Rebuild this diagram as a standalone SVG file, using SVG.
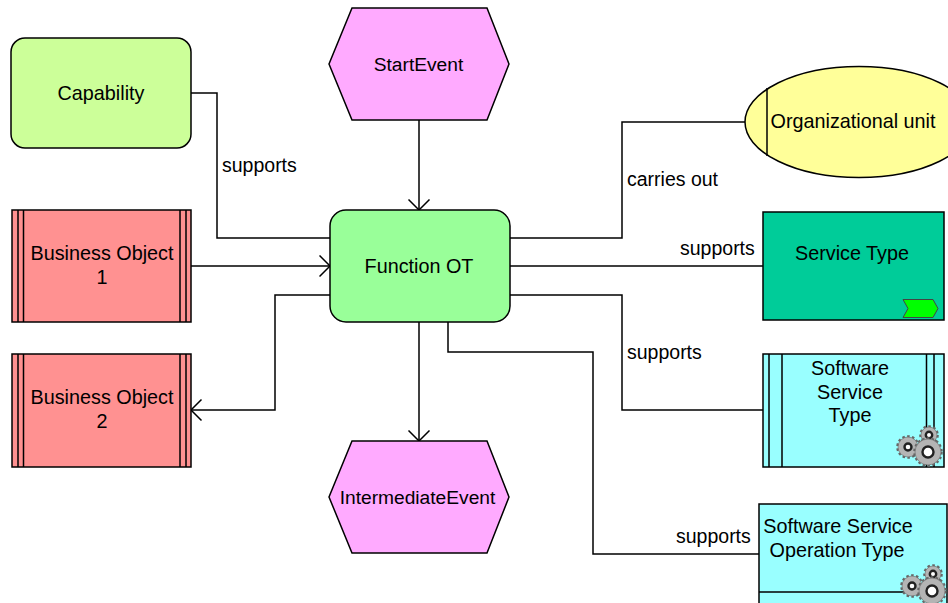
<svg xmlns="http://www.w3.org/2000/svg" width="948" height="603" viewBox="0 0 948 603">
<style>
.s{stroke:#000;stroke-width:1.5}
.c{fill:none;stroke:#000;stroke-width:1.5}
text{font-family:"Liberation Sans",Arial,sans-serif;font-size:19.8px;fill:#000;text-anchor:middle}
.l{text-anchor:start;font-size:19.5px}
.e{font-size:19.2px}
.t{fill:none;stroke:#666;stroke-width:3.6;stroke-dasharray:2.4 2.2}
.b{fill:#b4b4b4;stroke:#666;stroke-width:.6}
.h{fill:#fff;stroke:#222;stroke-width:2.4}
</style>
<defs>
<marker id="a" markerUnits="userSpaceOnUse" markerWidth="14" markerHeight="26" refX="11.5" refY="11.5" orient="auto"><path d="M1 1L11.5 11.500L1 22" fill="none" stroke="#000" stroke-width="1.5"/></marker>
<g id="gears">
<circle cx="32" cy="-29" r="8" class="t"/><circle cx="32" cy="-29" r="8" class="b"/><circle cx="32" cy="-29" r="3.200" class="h"/>
<circle cx="11" cy="-17" r="10" class="t"/><circle cx="11" cy="-17" r="10" class="b"/><circle cx="11" cy="-17" r="3.500" class="h"/>
<circle cx="31" cy="-12" r="13" class="t"/><circle cx="31" cy="-12" r="13" class="b"/><circle cx="31" cy="-12" r="5.500" class="h"/>
</g>
</defs>
<g id="connectors">
<path class="c" d="M191 93H217V238H330"/>
<path class="c" d="M419 120V210" marker-end="url(#a)"/>
<path class="c" d="M191 266H330" marker-end="url(#a)"/>
<path class="c" d="M330 295H275V410H191" marker-end="url(#a)"/>
<path class="c" d="M419 322V441" marker-end="url(#a)"/>
<path class="c" d="M510 238H622V122H746"/>
<path class="c" d="M510 266H763"/>
<path class="c" d="M510 295H622V410H763"/>
<path class="c" d="M448 322V352H593V554H759"/>
<text class="l" x="222" y="172">supports</text>
<text class="l" x="627" y="186">carries out</text>
<text class="l" x="680" y="255">supports</text>
<text class="l" x="627" y="359">supports</text>
<text class="l" x="676" y="543">supports</text>
</g>
<g id="capability"><rect class="s" x="11" y="38" width="180" height="110" rx="14" fill="#ccff99"/><text x="101" y="100">Capability</text></g>
<g id="start-event"><path class="s" d="M352 8H487L509 64L487 120H352L329 64Z" fill="#ffaaff"/><text class="e" x="418.500" y="71">StartEvent</text></g>
<g id="org-unit"><ellipse class="s" cx="859" cy="122" rx="114" ry="55.500" fill="#ffff99"/><path class="c" d="M767 88V156"/><text x="853" y="128">Organizational unit</text></g>
<g id="business-object-1"><rect class="s" x="12" y="210" width="179" height="112" fill="#ff9191"/><path class="c" d="M18 210V322M23.500 210V322M180 210V322M186 210V322"/><text x="102" y="260">Business Object</text><text x="102" y="284">1</text></g>
<g id="function"><rect class="s" x="330" y="210" width="180" height="112" rx="16" fill="#99ff99"/><text x="419" y="273">Function OT</text></g>
<g id="service-type"><rect class="s" x="763" y="212" width="181" height="108" fill="#00cc99"/><text x="852" y="260">Service Type</text><path d="M903 299.500H933L938 308.500L933 317.500H903L908 308.500Z" fill="#00ff00" stroke="#444"/></g>
<g id="business-object-2"><rect class="s" x="12" y="354" width="179" height="113" fill="#ff9191"/><path class="c" d="M18 354V467M23.500 354V467M180 354V467M186 354V467"/><text x="102" y="404">Business Object</text><text x="102" y="428">2</text></g>
<g id="software-service-type"><rect class="s" x="763" y="354" width="181" height="113" fill="#99ffff"/><path class="c" d="M769 354V467M782 354V467M926.500 354V467M934 354V467"/><text x="850" y="375">Software</text><text x="850" y="399">Service</text><text x="850" y="422">Type</text><use href="#gears" x="897" y="464"/></g>
<g id="intermediate-event"><path class="s" d="M352 441H487L509 497L487 553H352L329 497Z" fill="#ffaaff"/><text class="e" x="417.500" y="504">IntermediateEvent</text></g>
<g id="software-service-operation-type"><path class="s" d="M759 604V504H947V604Z" fill="#99ffff"/><path class="c" d="M759 592H947"/><text x="838" y="533">Software Service</text><text x="837" y="557">Operation Type</text><use href="#gears" x="901" y="603"/></g>
</svg>
